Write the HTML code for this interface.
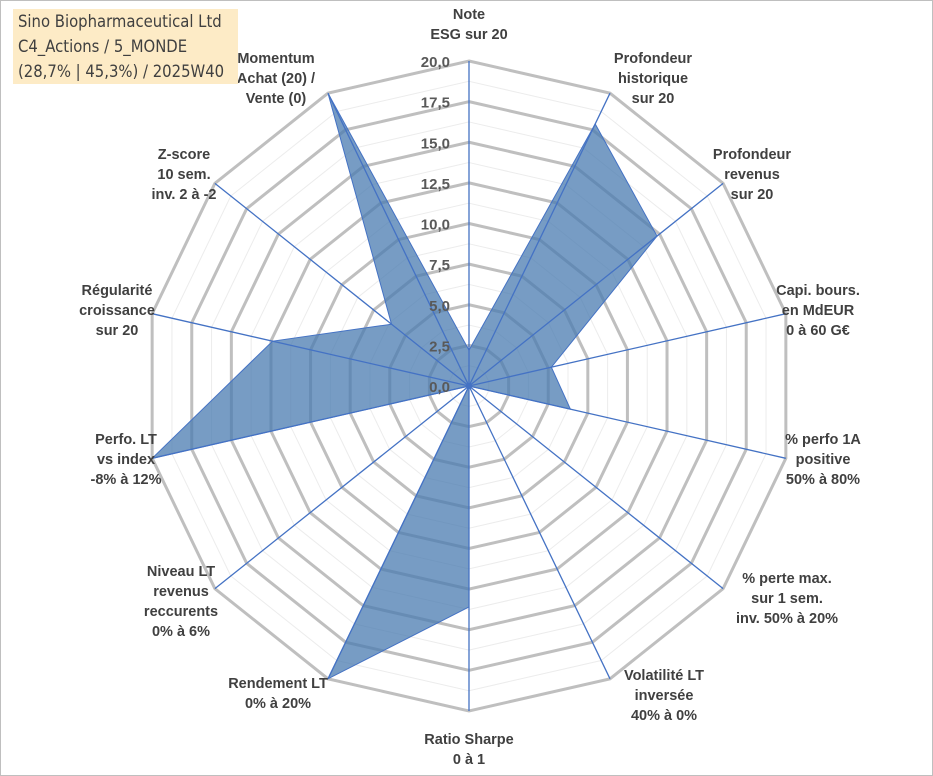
<!DOCTYPE html>
<html><head><meta charset="utf-8">
<style>
body{margin:0;background:#fff;}
#wrap{position:relative;width:933px;height:776px;overflow:hidden;font-family:"Liberation Sans",Arial,sans-serif;}
#frame{position:absolute;left:0;top:0;width:931px;height:774px;border:1px solid #bfbfbf;}
#title{position:absolute;left:13px;top:9px;width:220px;height:75px;background:#fdebc6;color:#404040;font-size:16.5px;line-height:25px;padding-left:5px;font-family:"DejaVu Sans Condensed","Liberation Sans Narrow","Liberation Sans",sans-serif;}
.lbl{font-weight:bold;font-size:14.5px;fill:#404040;}
.tick{font-weight:bold;font-size:15px;fill:#595959;}
</style></head><body>
<div id="wrap">
<div id="frame"></div>
<svg id="chart" width="933" height="776" style="position:absolute;left:0;top:0"></svg>
<div id="title">Sino Biopharmaceutical Ltd<br>C4_Actions / 5_MONDE<br>(28,7% | 45,3%) / 2025W40</div>
</div>
<script>
const categories=["Note ESG sur 20","Profondeur historique sur 20","Profondeur revenus sur 20","Capi. bours. en MdEUR 0 à 60 G€","% perfo 1A positive 50% à 80%","% perte max. sur 1 sem. inv. 50% à 20%","Volatilité LT inversée 40% à 0%","Ratio Sharpe 0 à 1","Rendement LT 0% à 20%","Niveau LT revenus reccurents 0% à 6%","Perfo. LT vs index -8% à 12%","Régularité croissance sur 20","Z-score 10 sem. inv. 2 à -2","Momentum Achat (20) / Vente (0)"];
const values=[2.2,17.9,14.8,5.2,6.4,0,0,13.6,20,0,20,12.4,6.1,20];
const tickLabels=["0,0","2,5","5,0","7,5","10,0","12,5","15,0","17,5","20,0"];
const labelLines=[["Note","ESG sur 20"],["Profondeur","historique","sur 20"],["Profondeur","revenus","sur 20"],["Capi. bours.","en MdEUR","0 à 60 G€"],["% perfo 1A","positive","50% à 80%"],["% perte max.","sur 1 sem.","inv. 50% à 20%"],["Volatilité LT","inversée","40% à 0%"],["Ratio Sharpe","0 à 1"],["Rendement LT","0% à 20%"],["Niveau LT","revenus","reccurents","0% à 6%"],["Perfo. LT","vs index","-8% à 12%"],["Régularité","croissance","sur 20"],["Z-score","10 sem.","inv. 2 à -2"],["Momentum","Achat (20) /","Vente (0)"]];
const maxV=20;
const cx=469,cy=386,R=325;
const svg=document.getElementById('chart');
const NS='http://www.w3.org/2000/svg';
const n=categories.length;
function ang(i){return i*2*Math.PI/n;}
function pt(i,v){const r=v/maxV*R;return [cx+r*Math.sin(ang(i)),cy-r*Math.cos(ang(i))];}
function mk(t,a){const e=document.createElementNS(NS,t);for(const k in a)e.setAttribute(k,a[k]);svg.appendChild(e);return e;}
// grid rings
for(let k=1;k<=16;k++){
  const v=k*1.25;const ps=[];for(let i=0;i<n;i++)ps.push(pt(i,v).join(','));
  const major=k%2===0;
  const g=mk('polygon',{points:ps.join(' '),fill:'none',stroke:major?'#bfbfbf':'#ececec','stroke-width':major?3:1});
  
  
}
// series
const sp=values.map((v,i)=>pt(i,v).join(',')).join(' ');
const poly=mk('polygon',{points:sp,fill:'#4a7bb0','fill-opacity':0.75,stroke:'#4472c4','stroke-width':1});


// spokes
for(let i=0;i<n;i++){
  const p=pt(i,maxV);
  const l=mk('line',{x1:cx,y1:cy,x2:p[0],y2:p[1],stroke:'#4472c4','stroke-width':1.3});
  
  
}
mk('circle',{cx:cx,cy:cy,r:3,fill:'#4472c4'});
// ticks
tickLabels.forEach((t,k)=>{
  const e=mk('text',{x:cx-19,y:cy-k*2.5/maxV*R+6,'text-anchor':'end',class:'tick'});
  e.textContent=t;
  
  
});
// category labels
const labelPos=[[469,19],[653,63],[752,159],[818,295],[823,444],[787,583],[664,680],[469,744],[278,688],[181,576],[126,444],[117,295],[184,159],[276,63]];
labelLines.forEach((lines,i)=>{
  const [x,y]=labelPos[i];
  const e=mk('text',{x:x,y:y,'text-anchor':'middle',class:'lbl'});
  lines.forEach((s,j)=>{const ts=document.createElementNS(NS,'tspan');ts.setAttribute('x',x);ts.setAttribute('dy',j===0?0:20);ts.textContent=s;e.appendChild(ts);});
  
  
});
</script>
</body></html>
